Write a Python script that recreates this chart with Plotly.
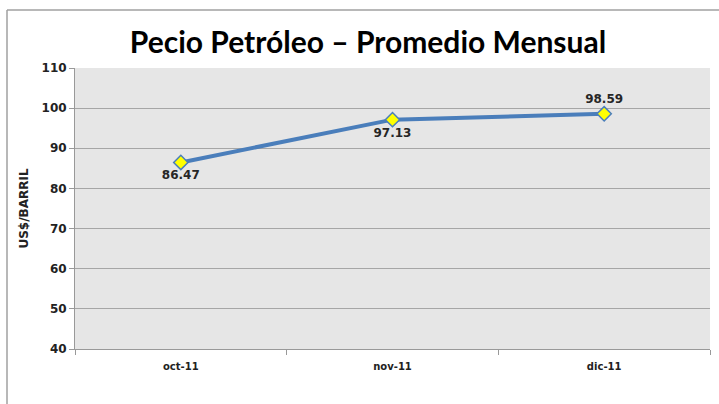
import plotly.graph_objects as go

months = ["oct-11", "nov-11", "dic-11"]
prices = [86.47, 97.13, 98.59]
label_pos = ["bottom center", "bottom center", "top center"]
y_ticks = [40, 50, 60, 70, 80, 90, 100, 110]

W, H = 719, 404
L, R, T, B = 75, 9, 68, 55
pw, ph = W - L - R, H - T - B

fig = go.Figure()
fig.add_trace(go.Scatter(
    x=months, y=prices, mode="lines+markers+text",
    line=dict(color="#4a7ebb", width=4),
    marker=dict(symbol="diamond", size=11, color="#ffff00",
                line=dict(color="#4a7ebb", width=1.5)),
    text=[f"<b>{v:.2f}</b>" for v in prices], textposition=label_pos,
    textfont=dict(family="DejaVu Sans", size=12, color="#262626"),
    cliponaxis=False, showlegend=False, hoverinfo="skip",
))

fig.update_layout(
    width=W, height=H,
    margin=dict(l=L, r=R, t=T, b=B),
    paper_bgcolor="white", plot_bgcolor="#e6e6e6",
    title=dict(text="<b>Pecio Petróleo – Promedio Mensual</b>",
               x=368 / W, xanchor="center", y=1 - 42 / H, yanchor="middle",
               font=dict(family="Lato", size=30, color="black")),
    xaxis=dict(type="category", range=[-0.5, 2.5], showgrid=False,
               tickson="boundaries", ticks="outside", ticklen=5, tickcolor="#999999",
               showline=True, linecolor="#999999", linewidth=1, ticklabelstandoff=8,
               tickfont=dict(family="DejaVu Sans", size=10, color="#222222", weight="bold")),
    yaxis=dict(range=[40, 110], tickvals=y_ticks, showgrid=True,
               gridcolor="#a6a6a6", gridwidth=1, zeroline=False,
               ticks="outside", ticklen=5, tickcolor="#999999",
               showline=True, linecolor="#999999", linewidth=1,
               tickfont=dict(family="DejaVu Sans", size=12, color="#222222", weight="bold"),
               title=dict(text="<b>US$/BARRIL</b>", standoff=10,
                          font=dict(family="DejaVu Sans", size=12, color="#222222"))),
)

# outer chart-area border (top and left lines)
x_left = (7 - L) / pw
y_top = 1 + (T - 10) / ph
y_bot = -(B + 5) / ph
fig.add_shape(type="line", xref="paper", yref="paper",
              x0=x_left, x1=1 + R / pw + 0.01, y0=y_top, y1=y_top,
              line=dict(color="#a0a0a0", width=1.5))
fig.add_shape(type="line", xref="paper", yref="paper",
              x0=x_left, x1=x_left, y0=y_top, y1=y_bot,
              line=dict(color="#a0a0a0", width=1.5))

fig.write_html("out.html", config={"displayModeBar": False},
               post_script="document.body.style.margin='0';document.body.style.overflow='hidden';")
